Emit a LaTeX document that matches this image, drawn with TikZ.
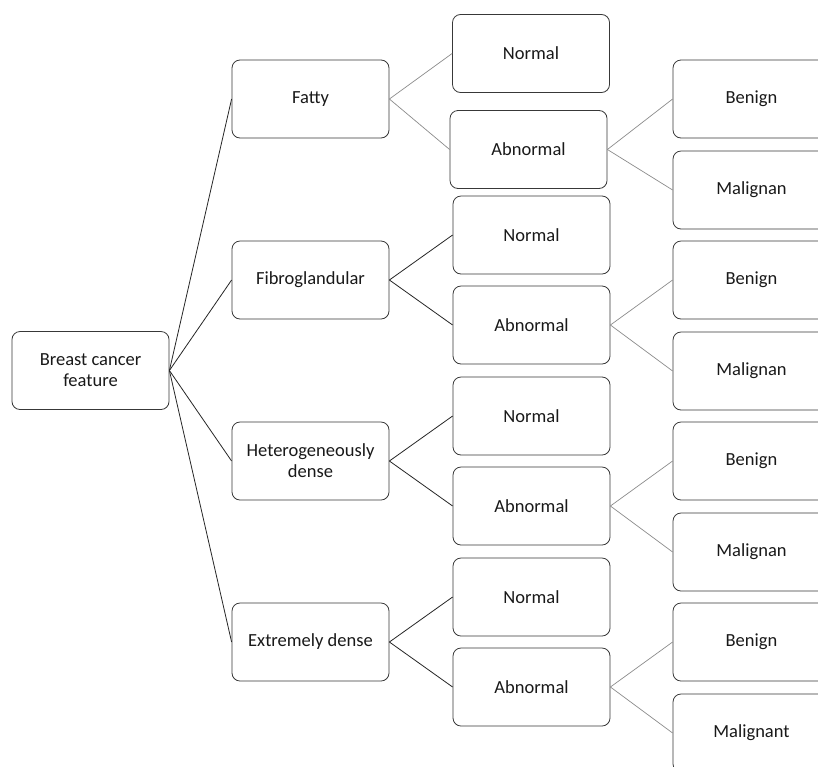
\documentclass[tikz,border=0pt]{standalone}
\usepackage{fontspec}
\setmainfont{Carlito}
\begin{document}
\begin{tikzpicture}[x=1pt,y=-1pt,
  box/.style={draw=black!78, line width=0.8pt, rounded corners=8pt,
    minimum width=157pt, minimum height=78pt, inner sep=2pt, align=center,
    font=\fontsize{18.5}{21}\selectfont, text=black!90},
  dark/.style={draw=black!85, line width=0.8pt},
  light/.style={draw=black!45, line width=0.7pt}]
\clip (0,0) rectangle (818,766);
\useasboundingbox (0,0) rectangle (818,766);
\fill[white] (0,0) rectangle (818,766);
% root
\node[box] (root) at (90.5,370.5) {Breast cancer\\feature};
% level 1
\node[box] (fat) at (310.5,99) {Fatty};
\node[box] (fib) at (310.5,280) {Fibroglandular};
\node[box] (het) at (310.5,461) {Heterogeneously\\dense};
\node[box] (ext) at (310.5,642) {Extremely dense};
% level 2
\node[box] (n1) at (531,53.5) {Normal};
\node[box] (a1) at (528.5,149.5) {Abnormal};
\node[box] (n2) at (531.5,235) {Normal};
\node[box] (a2) at (531.5,325) {Abnormal};
\node[box] (n3) at (531.5,416) {Normal};
\node[box] (a3) at (531.5,506) {Abnormal};
\node[box] (n4) at (531.5,597) {Normal};
\node[box] (a4) at (531.5,687) {Abnormal};
% level 3
\node[box] (b1) at (751.5,99) {Benign};
\node[box] (m1) at (751.5,190) {Malignan};
\node[box] (b2) at (751.5,280) {Benign};
\node[box] (m2) at (751.5,371) {Malignan};
\node[box] (b3) at (751.5,461) {Benign};
\node[box] (m3) at (751.5,552) {Malignan};
\node[box] (b4) at (751.5,642) {Benign};
\node[box] (m4) at (751.5,733) {Malignant};
% connectors
\foreach \t in {fat,fib,het,ext} \draw[dark] (root.east) -- (\t.west);
\draw[light] (fat.east) -- (n1.west);
\draw[light] (fat.east) -- (a1.west);
\draw[dark] (fib.east) -- (n2.west);
\draw[dark] (fib.east) -- (a2.west);
\draw[dark] (het.east) -- (n3.west);
\draw[dark] (het.east) -- (a3.west);
\draw[dark] (ext.east) -- (n4.west);
\draw[dark] (ext.east) -- (a4.west);
\foreach \i in {1,2,3,4} {
  \draw[light] (a\i.east) -- (b\i.west);
  \draw[light] (a\i.east) -- (m\i.west);
}
\end{tikzpicture}
\end{document}
